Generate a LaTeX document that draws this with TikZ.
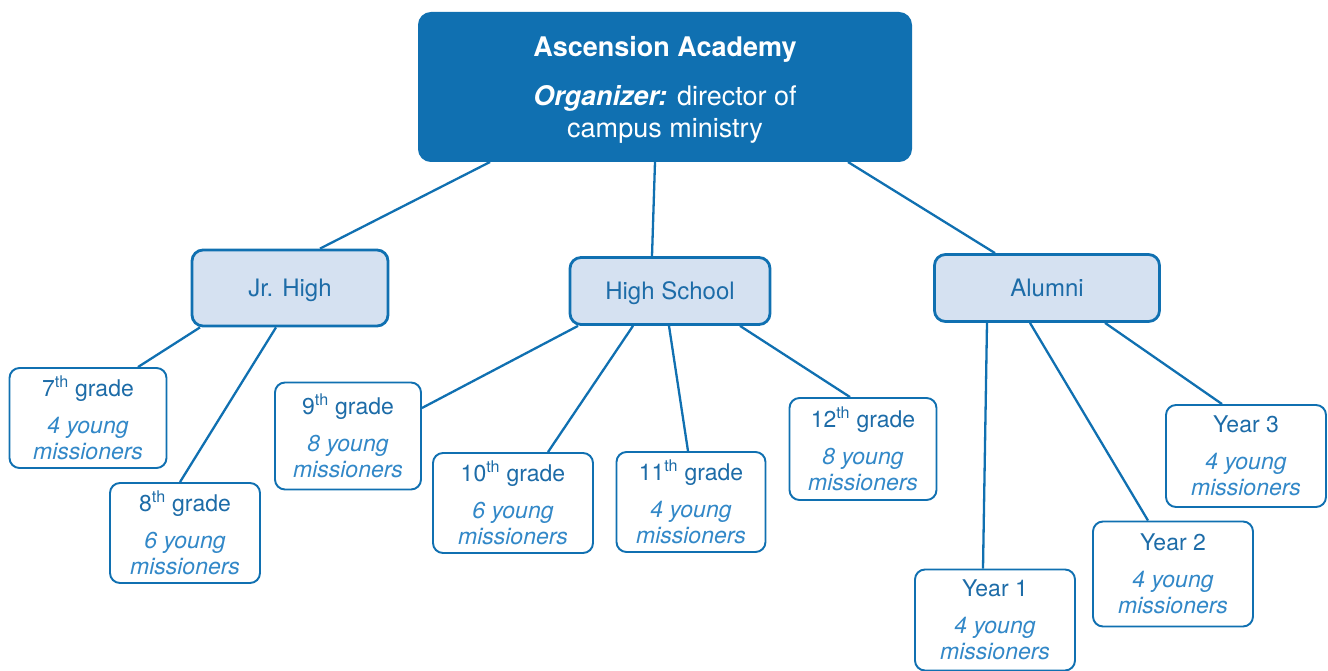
\documentclass[tikz,border=0pt]{standalone}
\usepackage{fontspec}
\setmainfont{TeX Gyre Heros}

\definecolor{acblue}{HTML}{1070B1}
\definecolor{aclight}{HTML}{D5E1F1}
\definecolor{actext}{HTML}{1D6CA8}
\definecolor{acital}{HTML}{3288C8}

\newcommand{\grp}[2]{#1\textsuperscript{th}~grade\\[11pt]\textit{\color{acital}#2 young}\\\textit{\color{acital}missioners}}
\newcommand{\yr}[2]{Year #1\\[11pt]\textit{\color{acital}#2 young}\\\textit{\color{acital}missioners}}

\begin{document}
\begin{tikzpicture}[x=1pt,y=-1pt,
  main node/.style={rounded corners=12pt,draw=acblue,fill=acblue,line width=2pt,text=white,align=center,inner sep=0pt,text depth=0pt,font=\fontsize{27}{32}\selectfont},
  group node/.style={rounded corners=11pt,draw=acblue,fill=aclight,line width=2.8pt,text=actext,align=center,inner sep=0pt,text depth=0pt,font=\fontsize{24}{28}\selectfont},
  leaf node/.style={rounded corners=10pt,draw=acblue,fill=white,line width=1.9pt,text=actext,align=center,inner sep=0pt,font=\fontsize{23}{26}\selectfont},
  link/.style={draw=acblue,line width=2.3pt}]
  \useasboundingbox (0,0) rectangle (1328,671);

  \node[main node,minimum width=492pt,minimum height=148pt] (top) at (665,87)
    {\textbf{Ascension Academy}\\[17pt]\textbf{\textit{Organizer:}} director of\\campus ministry};

  \node[group node,minimum width=196pt,minimum height=76pt] (jr) at (290,288) {Jr. High};
  \node[group node,minimum width=200pt,minimum height=67pt] (hs) at (670,291) {High School};
  \node[group node,minimum width=225pt,minimum height=67pt] (alum) at (1047,288) {Alumni};

  \node[leaf node,minimum width=157pt,minimum height=100pt] (g7) at (88,418) {\grp{7}{4}};
  \node[leaf node,minimum width=150pt,minimum height=100pt] (g8) at (185,533) {\grp{8}{6}};
  \node[leaf node,minimum width=146pt,minimum height=107pt] (g9) at (348,436) {\grp{9}{8}};
  \node[leaf node,minimum width=160pt,minimum height=100pt] (g10) at (513,503) {\grp{10}{6}};
  \node[leaf node,minimum width=149pt,minimum height=100pt] (g11) at (691,502) {\grp{11}{4}};
  \node[leaf node,minimum width=147pt,minimum height=102pt] (g12) at (863,449) {\grp{12}{8}};

  \node[leaf node,minimum width=160pt,minimum height=101pt] (y1) at (995,620) {\yr{1}{4}};
  \node[leaf node,minimum width=160pt,minimum height=105pt] (y2) at (1173,574) {\yr{2}{4}};
  \node[leaf node,minimum width=160pt,minimum height=102pt] (y3) at (1246,456) {\yr{3}{4}};

  % academy to the three groups
  \path[link] ([xshift=-175pt]top.south) edge ([xshift=30pt]jr.north);
  \path[link] ([xshift=-10pt]top.south) edge ([xshift=-18pt]hs.north);
  \path[link] ([xshift=183pt]top.south) edge ([xshift=-52pt]alum.north);

  % jr. high
  \path[link] ([xshift=-90pt]jr.south) edge ([xshift=50pt]g7.north);
  \path[link] ([xshift=-14pt]jr.south) edge ([xshift=-5pt]g8.north);

  % high school
  \path[link] ([xshift=-92pt]hs.south) edge ([yshift=28pt]g9.east);
  \path[link] ([xshift=-37pt]hs.south) edge ([xshift=35pt]g10.north);
  \path[link] ([xshift=-1pt]hs.south) edge ([xshift=-3pt]g11.north);
  \path[link] ([xshift=70pt]hs.south) edge ([xshift=-13pt]g12.north);

  % alumni
  \path[link] ([xshift=-60pt]alum.south) edge ([xshift=-12pt]y1.north);
  \path[link] ([xshift=-17pt]alum.south) edge ([xshift=-25pt]y2.north);
  \path[link] ([xshift=58pt]alum.south) edge ([xshift=-24pt]y3.north);
\end{tikzpicture}
\end{document}
